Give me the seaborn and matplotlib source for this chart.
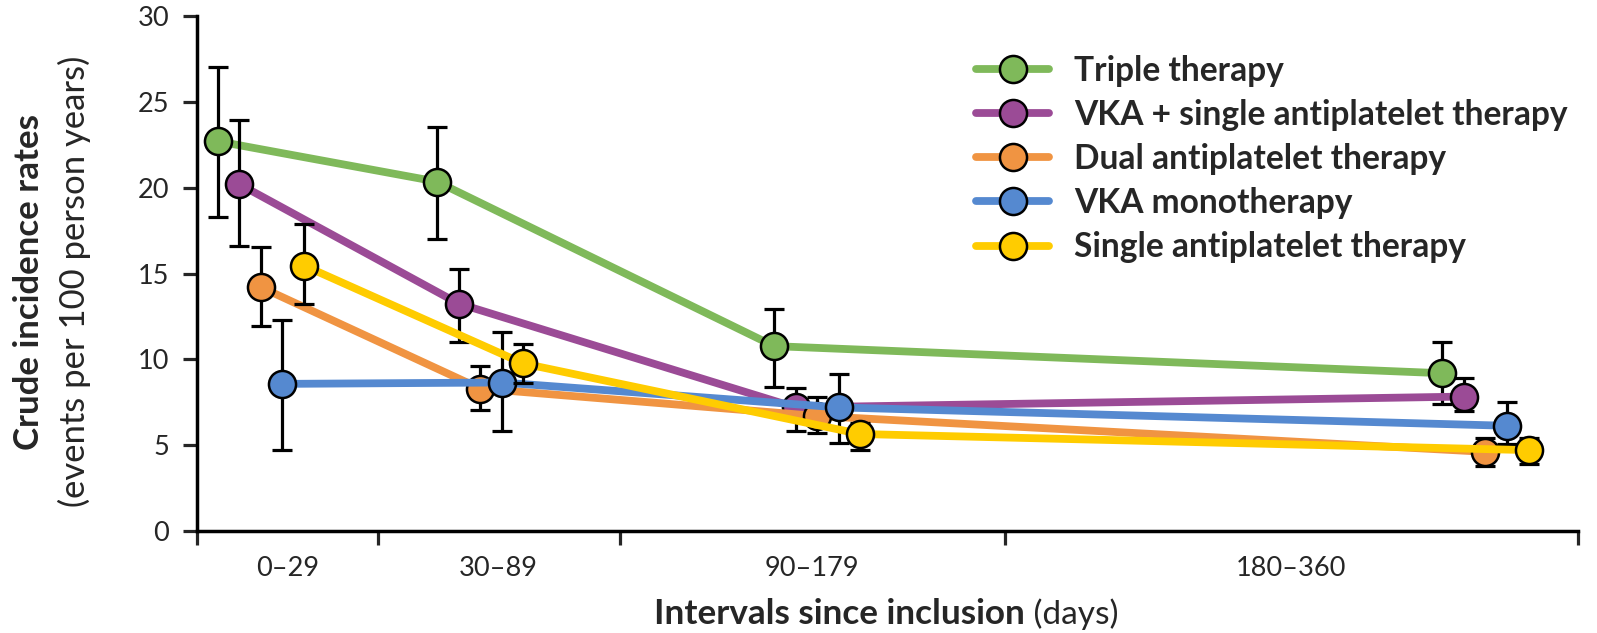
import numpy as np
import pandas as pd
import matplotlib
matplotlib.use("Agg")
import matplotlib.pyplot as plt
import seaborn as sns
from matplotlib.lines import Line2D

# ---------------- data ----------------
series = ["Triple therapy", "VKA + single antiplatelet therapy",
          "Dual antiplatelet therapy", "VKA monotherapy",
          "Single antiplatelet therapy"]
colors = ["#7FB95A", "#9B4B96", "#F09442", "#5589D0", "#FFCC00"]
intervals = ["0\u201329", "30\u201389", "90\u2013179", "180\u2013360"]
interval_edges = [0, 13.1, 30.6, 58.5, 100]      # axis position units
group_center = [4.63, 20.5, 44.9, 93.3]           # centre of each cluster
dodge_step = 1.56

rate_triple = [22.7, 20.35, 10.77, 9.19]
lo_triple = [18.3, 17.0, 8.37, 7.4]
hi_triple = [27.0, 23.55, 12.95, 11.0]

rate_vka_sapt = [20.2, 13.25, 7.2, 7.83]
lo_vka_sapt = [16.6, 11.0, 5.8, 6.97]
hi_vka_sapt = [23.95, 15.27, 8.31, 8.9]

rate_dapt = [14.2, 8.3, 6.7, 4.61]
lo_dapt = [11.97, 7.04, 5.68, 3.8]
hi_dapt = [16.55, 9.6, 7.79, 5.41]

rate_vka = [8.57, 8.65, 7.2, 6.13]
lo_vka = [4.72, 5.82, 5.1, 5.06]
hi_vka = [12.3, 11.6, 9.15, 7.5]

rate_sapt = [15.46, 9.76, 5.65, 4.71]
lo_sapt = [13.25, 8.6, 4.71, 3.9]
hi_sapt = [17.87, 10.92, 6.3, 5.4]

rates = [rate_triple, rate_vka_sapt, rate_dapt, rate_vka, rate_sapt]
los = [lo_triple, lo_vka_sapt, lo_dapt, lo_vka, lo_sapt]
his = [hi_triple, hi_vka_sapt, hi_dapt, hi_vka, hi_sapt]

rows = []
for i, s in enumerate(series):
    for j, iv in enumerate(intervals):
        rows.append(dict(series=s, interval=iv,
                         x=group_center[j] + (i - 2) * dodge_step,
                         rate=rates[i][j], lo=los[i][j], hi=his[i][j]))
df = pd.DataFrame(rows)

# ---------------- style ----------------
sns.set_style("ticks")
plt.rcParams["font.family"] = ["Lato", "DejaVu Sans"]

W, H = 1597, 633
fig = plt.figure(figsize=(W / 100, H / 100), dpi=100)
ax = fig.add_axes([197 / W, 1 - 531 / H, (1578 - 197) / W, (531 - 16) / H])

for i, s in enumerate(series):
    d = df[df.series == s]
    ax.errorbar(d.x, d.rate, yerr=[d.rate - d.lo, d.hi - d.rate], fmt="none",
                ecolor="black", elinewidth=2.3, capsize=7.5, capthick=2.3,
                zorder=3 + 2 * i)
    sns.lineplot(data=d, x="x", y="rate", color=colors[i], lw=5.6,
                 marker="o", markersize=19.5, markerfacecolor=colors[i],
                 markeredgecolor="black", markeredgewidth=1.8,
                 estimator=None, sort=False, legend=False, ax=ax,
                 zorder=4 + 2 * i)

ax.set_xlim(0, 100)
ax.set_ylim(0, 30)
ax.set_yticks(np.arange(0, 31, 5))
ax.set_xticks(interval_edges)
ax.set_xticklabels([""] * len(interval_edges))
mids = [(interval_edges[k] + interval_edges[k + 1]) / 2 for k in range(4)]
ax.set_xticks(mids, minor=True)
ax.set_xticklabels(intervals, minor=True)
ax.tick_params(axis="x", which="minor", length=0, pad=18, labelsize=19.5)
ax.tick_params(axis="x", which="major", length=10, width=2.3, direction="out")
ax.tick_params(axis="y", length=10, width=2.3, direction="out", pad=10,
               labelsize=19.5)
ax.set_xlabel("")
ax.set_ylabel("")
for sp in ["top", "right"]:
    ax.spines[sp].set_visible(False)
for sp in ["left", "bottom"]:
    ax.spines[sp].set_linewidth(2.5)
    ax.spines[sp].set_color("black")

fig.canvas.draw()
r = fig.canvas.get_renderer()


def fit(t, target, vertical=False):
    """Scale a text's font size so its length matches target pixels."""
    for _ in range(3):
        bb = t.get_window_extent(r)
        cur = bb.height if vertical else bb.width
        t.set_fontsize(t.get_fontsize() * target / cur)
    return t


# y label (two lines, bold + regular)
ty1 = fig.text(29 / W, 1 - 282 / H, "Crude incidence rates", rotation=90,
               ha="center", va="center", fontsize=23, fontweight="bold")
ty2 = fig.text(74 / W, 1 - 281 / H, "(events per 100 person years)",
               rotation=90, ha="center", va="center", fontsize=22.4)
fit(ty1, 336, vertical=True)
fit(ty2, 452, vertical=True)

# x label (bold + regular), centred as a whole
t1 = fig.text(0, 1 - 614 / H, "Intervals since inclusion", ha="left",
              va="center", fontsize=24.5, fontweight="bold")
t2 = fig.text(0, 1 - 614 / H, " (days)", ha="left", va="center",
              fontsize=23.5)
fit(t1, 372)
t2.set_fontsize(t1.get_fontsize() * 0.95)
w1 = t1.get_window_extent(r).width
w2 = t2.get_window_extent(r).width
x0 = 886 - (w1 + w2) / 2
t1.set_x(x0 / W)
t2.set_x((x0 + w1) / W)

# legend font size fitted to the longest label
probe = fig.text(0, 0, series[1], fontsize=24.5, fontweight="bold")
fit(probe, 494)
leg_size = probe.get_fontsize()
probe.remove()
fs_px = leg_size * 100 / 72

handles = [Line2D([0], [0], color=c, lw=5.6, marker="o", markersize=19.5,
                  markerfacecolor=c, markeredgecolor="black",
                  markeredgewidth=1.8) for c in colors]
leg = fig.legend(handles, series, loc="upper left",
                 bbox_to_anchor=(976 / W, 1 - 55 / H), frameon=False,
                 prop=dict(family="Lato", weight="bold", size=leg_size),
                 handlelength=73 / fs_px, handletextpad=25 / fs_px,
                 labelspacing=0.36,
                 borderpad=0, borderaxespad=0)

fig.savefig("out.png", dpi=100)
